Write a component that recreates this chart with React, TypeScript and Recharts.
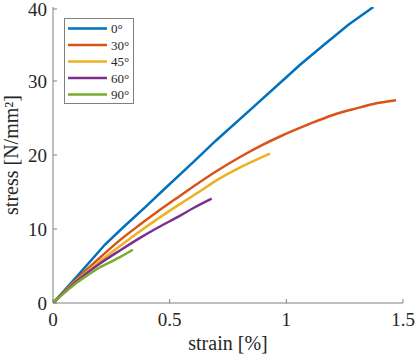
import { LineChart, Line, XAxis, YAxis, Legend } from "recharts";

const angles = ["0°", "30°", "45°", "60°", "90°"];
const colors = ["#0072BD", "#D95319", "#EDB120", "#7E2F8E", "#77AC30"];

const strainTicks = [0, 0.5, 1, 1.5];
const stressTicks = [0, 10, 20, 30, 40];

const strain0 = [0, 0.1, 0.223, 0.3, 0.4, 0.474, 0.6, 0.7, 0.845, 1.0, 1.059, 1.15, 1.266, 1.373];
const stress0 = [0, 3.5, 7.9, 10.2, 13.1, 15.3, 19.0, 22.0, 26.1, 30.5, 32.2, 34.6, 37.6, 40.0];

const strain30 = [0, 0.1, 0.2, 0.287, 0.373, 0.45, 0.545, 0.6, 0.7, 0.8, 0.9, 0.973, 1.1, 1.2, 1.3, 1.373, 1.47];
const stress30 = [0, 3.2, 6.1, 8.5, 10.6, 12.4, 14.5, 15.7, 17.8, 19.7, 21.4, 22.5, 24.2, 25.4, 26.3, 26.9, 27.4];

const strain45 = [0, 0.1, 0.2, 0.287, 0.373, 0.45, 0.545, 0.63, 0.702, 0.8, 0.93];
const stress45 = [0, 3.0, 5.6, 7.7, 9.7, 11.4, 13.4, 15.1, 16.6, 18.3, 20.2];

const strain60 = [0, 0.1, 0.2, 0.287, 0.373, 0.45, 0.545, 0.6, 0.68];
const stress60 = [0, 2.9, 5.3, 7.1, 8.8, 10.2, 11.8, 12.8, 14.1];

const strain90 = [0, 0.05, 0.1, 0.15, 0.2, 0.25, 0.287, 0.342];
const stress90 = [0, 1.4, 2.7, 3.8, 4.8, 5.6, 6.2, 7.2];

const toPoints = (strain: number[], stress: number[]) =>
  strain.map((s, i) => ({ strain: s, stress: stress[i] }));

const series = [
  toPoints(strain0, stress0),
  toPoints(strain30, stress30),
  toPoints(strain45, stress45),
  toPoints(strain60, stress60),
  toPoints(strain90, stress90),
];

// the 0° curve has visible kinks, the others are smooth
const curveTypes = ["linear", "monotone", "monotone", "monotone", "monotone"] as const;

const SERIF = '"Liberation Serif", "Times New Roman", serif';
const AXIS = "#808080";
const INK = "#262626";
const TICK_LEN = 4;

function BottomTick({ x, y, payload }: any) {
  return (
    <g>
      <line x1={x} x2={x} y1={y} y2={y - TICK_LEN} stroke={AXIS} />
      <text x={x} y={y + 23} textAnchor="middle" fill={INK} fontFamily={SERIF} fontSize={19}>
        {payload.value}
      </text>
    </g>
  );
}

function TopTick({ x, y }: any) {
  return <line x1={x} x2={x} y1={y} y2={y + TICK_LEN} stroke={AXIS} />;
}

function LeftTick({ x, y, payload }: any) {
  return (
    <g>
      <line x1={x} x2={x + TICK_LEN} y1={y} y2={y} stroke={AXIS} />
      <text x={x - 6} y={y + 6.5} textAnchor="end" fill={INK} fontFamily={SERIF} fontSize={19}>
        {payload.value}
      </text>
    </g>
  );
}

function RightTick({ x, y }: any) {
  return <line x1={x} x2={x - TICK_LEN} y1={y} y2={y} stroke={AXIS} />;
}

function LegendBox({ payload }: any) {
  const items = payload ?? [];
  return (
    <svg width={70} height={87} style={{ display: "block" }}>
      <rect x={0.5} y={0.5} width={69} height={85} fill="#fff" stroke={AXIS} />
      {items.map((item: any, i: number) => {
        const cy = 10.5 + i * 16.5;
        return (
          <g key={item.value}>
            <line x1={4} x2={43} y1={cy} y2={cy} stroke={item.color} strokeWidth={2.5} />
            <text x={47} y={cy + 4.5} fill={INK} fontFamily={SERIF} fontSize={13}>
              {item.value}
            </text>
          </g>
        );
      })}
    </svg>
  );
}

const xTitle = () => (
  <text x={228} y={350} textAnchor="middle" fill={INK} fontFamily={SERIF} fontSize={20}>
    strain [%]
  </text>
);

const yTitle = () => (
  <text
    x={17.5}
    y={155}
    transform="rotate(-90 17.5 155)"
    textAnchor="middle"
    fill={INK}
    fontFamily={SERIF}
    fontSize={20}
  >
    stress [N/mm²]
  </text>
);

export default function App() {
  return (
    <div style={{ position: "absolute", left: 0, top: 0, background: "#fff" }}>
      <LineChart width={415} height={357} margin={{ top: 7, right: 12, left: 0, bottom: 0 }}>
        <XAxis
          dataKey="strain"
          type="number"
          domain={[0, 1.5]}
          ticks={strainTicks}
          allowDataOverflow
          height={54}
          tickSize={0}
          tickMargin={0}
          tickLine={false}
          axisLine={{ stroke: AXIS }}
          tick={BottomTick}
          label={{ content: xTitle }}
        />
        <XAxis
          xAxisId="top"
          orientation="top"
          type="number"
          domain={[0, 1.5]}
          ticks={strainTicks}
          allowDataOverflow
          height={0}
          tickSize={0}
          tickMargin={0}
          tickLine={false}
          axisLine={{ stroke: AXIS }}
          tick={TopTick}
        />
        <YAxis
          type="number"
          domain={[0, 40]}
          ticks={stressTicks}
          allowDataOverflow
          width={53}
          tickSize={0}
          tickMargin={0}
          tickLine={false}
          axisLine={{ stroke: AXIS }}
          tick={LeftTick}
          label={{ content: yTitle }}
        />
        <YAxis
          yAxisId="right"
          orientation="right"
          type="number"
          domain={[0, 40]}
          ticks={stressTicks}
          allowDataOverflow
          width={0}
          tickSize={0}
          tickMargin={0}
          tickLine={false}
          axisLine={{ stroke: AXIS }}
          tick={RightTick}
        />
        <Legend
          layout="vertical"
          align="center"
          verticalAlign="middle"
          wrapperStyle={{ left: 64, top: 18, width: 70 }}
          content={LegendBox}
        />
        {series.map((data, i) => (
          <Line
            key={angles[i]}
            data={data}
            dataKey="stress"
            name={angles[i]}
            type={curveTypes[i]}
            stroke={colors[i]}
            strokeWidth={2.5}
            dot={false}
            activeDot={false}
            isAnimationActive={false}
          />
        ))}
      </LineChart>
    </div>
  );
}
